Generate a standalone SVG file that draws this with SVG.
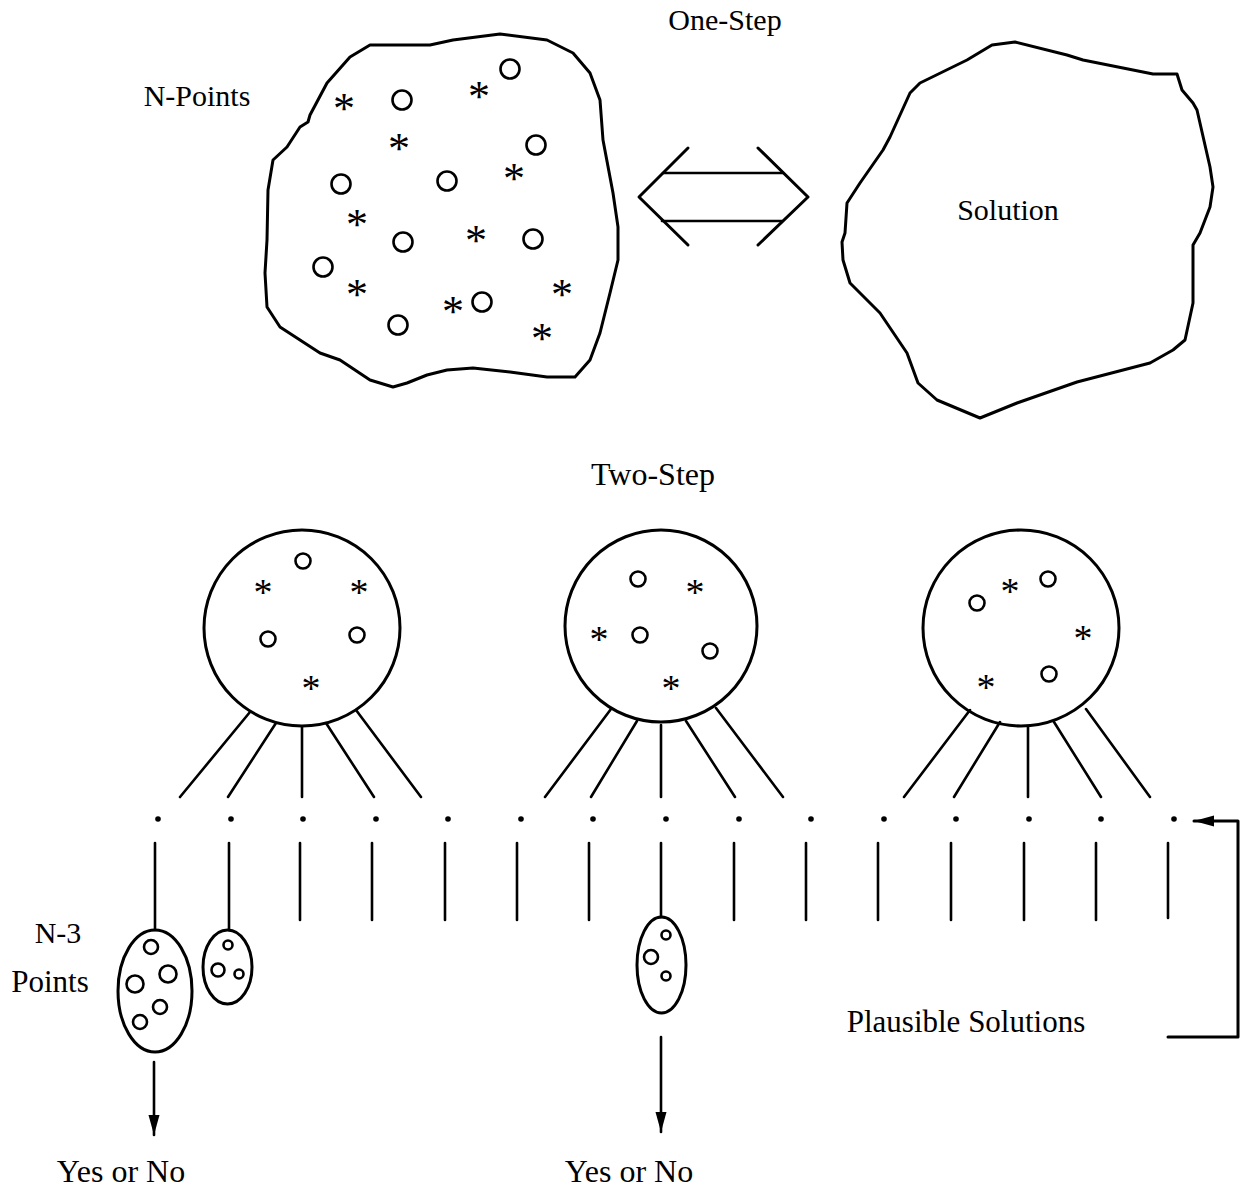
<svg xmlns="http://www.w3.org/2000/svg" width="1244" height="1191" viewBox="0 0 1244 1191">
<style>
.o{fill:none;stroke:#000;stroke-width:3;stroke-linejoin:round;stroke-linecap:round}
.c{fill:none;stroke:#000;stroke-width:2.6}
.l{fill:none;stroke:#000;stroke-width:2.6;stroke-linecap:round}
.t{font-family:"Liberation Serif","Times New Roman",serif;font-size:30px;fill:#000;text-anchor:middle}
.s{font-family:"Liberation Serif","Times New Roman",serif;font-size:44px;fill:#000;text-anchor:middle}
.s2{font-family:"Liberation Serif","Times New Roman",serif;font-size:38px;fill:#000;text-anchor:middle}
.d{fill:#000}
</style>
<defs>
<marker id="ah" markerUnits="userSpaceOnUse" markerWidth="22" markerHeight="14" refX="20" refY="7" orient="auto">
<path d="M0,1.5 L20,7 L0,12.5 Z" fill="#000"/>
</marker>
</defs>
<rect width="1244" height="1191" fill="#fff"/>

<text class="t" x="725" y="30">One-Step</text>
<text class="t" x="653" y="485" style="font-size:32px">Two-Step</text>

<g id="npoints">
<text class="t" x="197" y="106">N-Points</text>
<polygon class="o" points="370,45 430,45 453,40 500,34 547,40 573,53 590,73 600,100 603,140 613,193 618,227 618,260 610,293 600,333 590,360 575,377 547,377 510,372 473,368 447,370 427,375 407,383 393,387 370,380 340,360 320,353 300,340 280,327 267,307 265,273 267,240 268,190 273,160 287,147 300,127 308,122 310,115 327,83 350,57"/>
<circle class="c" cx="510" cy="69" r="9.5"/>
<circle class="c" cx="402" cy="100" r="9.5"/>
<circle class="c" cx="536" cy="145" r="9.5"/>
<circle class="c" cx="341" cy="184" r="9.5"/>
<circle class="c" cx="447" cy="181" r="9.5"/>
<circle class="c" cx="403" cy="242" r="9.5"/>
<circle class="c" cx="533" cy="239" r="9.5"/>
<circle class="c" cx="323" cy="267" r="9.5"/>
<circle class="c" cx="482" cy="302" r="9.5"/>
<circle class="c" cx="398" cy="325" r="9.5"/>
<text class="s" x="344" y="123">*</text>
<text class="s" x="479" y="111">*</text>
<text class="s" x="399" y="163">*</text>
<text class="s" x="514" y="193">*</text>
<text class="s" x="357" y="239">*</text>
<text class="s" x="476" y="255">*</text>
<text class="s" x="357" y="309">*</text>
<text class="s" x="562" y="309">*</text>
<text class="s" x="453" y="326">*</text>
<text class="s" x="542" y="353">*</text>
</g>

<g id="solution">
<polygon class="o" points="1015,42 1067,55 1083,60 1153,74 1177,74 1182,90 1193,103 1197,110 1210,167 1213,187 1210,207 1200,233 1193,245 1193,303 1185,340 1173,350 1150,363 1077,382 1017,403 980,418 937,400 918,383 907,353 880,313 850,283 843,260 842,242 845,233 847,203 860,183 883,150 890,137 910,93 920,83 967,60 992,45"/>
<text class="t" x="1008" y="220">Solution</text>
</g>

<g id="circle1">
<circle class="o" cx="302" cy="628" r="98"/>
<circle class="c" cx="303" cy="561" r="7.5"/>
<circle class="c" cx="268" cy="639" r="7.5"/>
<circle class="c" cx="357" cy="635" r="7.5"/>
<text class="s2" x="263" y="605">*</text>
<text class="s2" x="359" y="605">*</text>
<text class="s2" x="311" y="701">*</text>
</g>

<g id="circle2">
<circle class="o" cx="661" cy="626" r="96"/>
<circle class="c" cx="638" cy="579" r="7.5"/>
<circle class="c" cx="640" cy="635" r="7.5"/>
<circle class="c" cx="710" cy="651" r="7.5"/>
<text class="s2" x="695" y="605">*</text>
<text class="s2" x="599" y="652">*</text>
<text class="s2" x="671" y="701">*</text>
</g>

<g id="circle3">
<circle class="o" cx="1021" cy="628" r="98"/>
<circle class="c" cx="977" cy="603" r="7.5"/>
<circle class="c" cx="1048" cy="579" r="7.5"/>
<circle class="c" cx="1049" cy="674" r="7.5"/>
<text class="s2" x="1010" y="604">*</text>
<text class="s2" x="1083" y="651">*</text>
<text class="s2" x="986" y="700">*</text>
</g>

<g id="dots">
<circle class="d" cx="158" cy="819" r="2.8"/>
<circle class="d" cx="231" cy="819" r="2.8"/>
<circle class="d" cx="303" cy="819" r="2.8"/>
<circle class="d" cx="376" cy="819" r="2.8"/>
<circle class="d" cx="448" cy="819" r="2.8"/>
<circle class="d" cx="521" cy="819" r="2.8"/>
<circle class="d" cx="593" cy="819" r="2.8"/>
<circle class="d" cx="666" cy="819" r="2.8"/>
<circle class="d" cx="739" cy="819" r="2.8"/>
<circle class="d" cx="811" cy="819" r="2.8"/>
<circle class="d" cx="884" cy="819" r="2.8"/>
<circle class="d" cx="956" cy="819" r="2.8"/>
<circle class="d" cx="1029" cy="819" r="2.8"/>
<circle class="d" cx="1101" cy="819" r="2.8"/>
<circle class="d" cx="1174" cy="819" r="2.8"/>
</g>

<g id="ellipseA">
<ellipse class="o" cx="155" cy="991" rx="37" ry="61"/>
<circle class="c" cx="151" cy="947" r="7"/>
<circle class="c" cx="168" cy="974" r="8.5"/>
<circle class="c" cx="135" cy="984" r="8.5"/>
<circle class="c" cx="160" cy="1007" r="7"/>
<circle class="c" cx="140" cy="1022" r="7"/>
</g>

<g id="ellipseB">
<ellipse class="o" cx="227.5" cy="967" rx="24.5" ry="37"/>
<circle class="c" cx="228" cy="945" r="4.5"/>
<circle class="c" cx="218" cy="970" r="6.5"/>
<circle class="c" cx="239" cy="974" r="4.5"/>
</g>

<g id="ellipseC">
<ellipse class="o" cx="661.5" cy="965" rx="24.5" ry="48"/>
<circle class="c" cx="666" cy="935" r="4.5"/>
<circle class="c" cx="651" cy="957" r="7"/>
<circle class="c" cx="666" cy="976" r="4.5"/>
</g>

<g id="labels">
<text class="t" x="58" y="943">N-3</text>
<text class="t" x="50" y="992" style="font-size:31px">Points</text>
<text class="t" x="121" y="1182" style="font-size:32px">Yes or No</text>
<text class="t" x="629" y="1182" style="font-size:32px">Yes or No</text>
<text class="t" x="966" y="1032" style="font-size:31px">Plausible Solutions</text>
</g>

<g id="connectors">
<polyline class="o" points="688,148 639,197 688,245"/>
<polyline class="o" points="758,148 808,197 758,245"/>
<line class="l" x1="663" y1="173" x2="783" y2="173"/>
<line class="l" x1="662" y1="221" x2="782" y2="221"/>

<line class="l" x1="250" y1="712" x2="180" y2="797"/>
<line class="l" x1="276" y1="723" x2="228" y2="797"/>
<line class="l" x1="302" y1="727" x2="302" y2="797"/>
<line class="l" x1="326" y1="723" x2="374" y2="797"/>
<line class="l" x1="356" y1="710" x2="421" y2="797"/>

<line class="l" x1="611" y1="709" x2="545" y2="797"/>
<line class="l" x1="637" y1="721" x2="591" y2="797"/>
<line class="l" x1="661" y1="725" x2="661" y2="797"/>
<line class="l" x1="686" y1="721" x2="735" y2="797"/>
<line class="l" x1="716" y1="708" x2="783" y2="797"/>

<line class="l" x1="970" y1="710" x2="904" y2="797"/>
<line class="l" x1="1000" y1="722" x2="954" y2="797"/>
<line class="l" x1="1028" y1="727" x2="1028" y2="797"/>
<line class="l" x1="1054" y1="722" x2="1101" y2="797"/>
<line class="l" x1="1086" y1="709" x2="1150" y2="797"/>

<line class="l" x1="155" y1="843" x2="155" y2="930"/>
<line class="l" x1="229" y1="843" x2="229" y2="930"/>
<line class="l" x1="300" y1="843" x2="300" y2="920"/>
<line class="l" x1="372" y1="843" x2="372" y2="920"/>
<line class="l" x1="445" y1="843" x2="445" y2="920"/>
<line class="l" x1="517" y1="843" x2="517" y2="920"/>
<line class="l" x1="589" y1="843" x2="589" y2="920"/>
<line class="l" x1="661" y1="843" x2="661" y2="917"/>
<line class="l" x1="734" y1="843" x2="734" y2="920"/>
<line class="l" x1="806" y1="843" x2="806" y2="920"/>
<line class="l" x1="878" y1="843" x2="878" y2="920"/>
<line class="l" x1="951" y1="843" x2="951" y2="920"/>
<line class="l" x1="1024" y1="843" x2="1024" y2="920"/>
<line class="l" x1="1096" y1="843" x2="1096" y2="920"/>
<line class="l" x1="1168" y1="843" x2="1168" y2="918"/>

<line class="l" x1="154" y1="1062" x2="154" y2="1135" marker-end="url(#ah)"/>
<line class="l" x1="661" y1="1037" x2="661" y2="1132" marker-end="url(#ah)"/>
<polyline class="o" points="1168,1037 1238,1037 1238,821 1194,821" marker-end="url(#ah)"/>
</g>
</svg>
